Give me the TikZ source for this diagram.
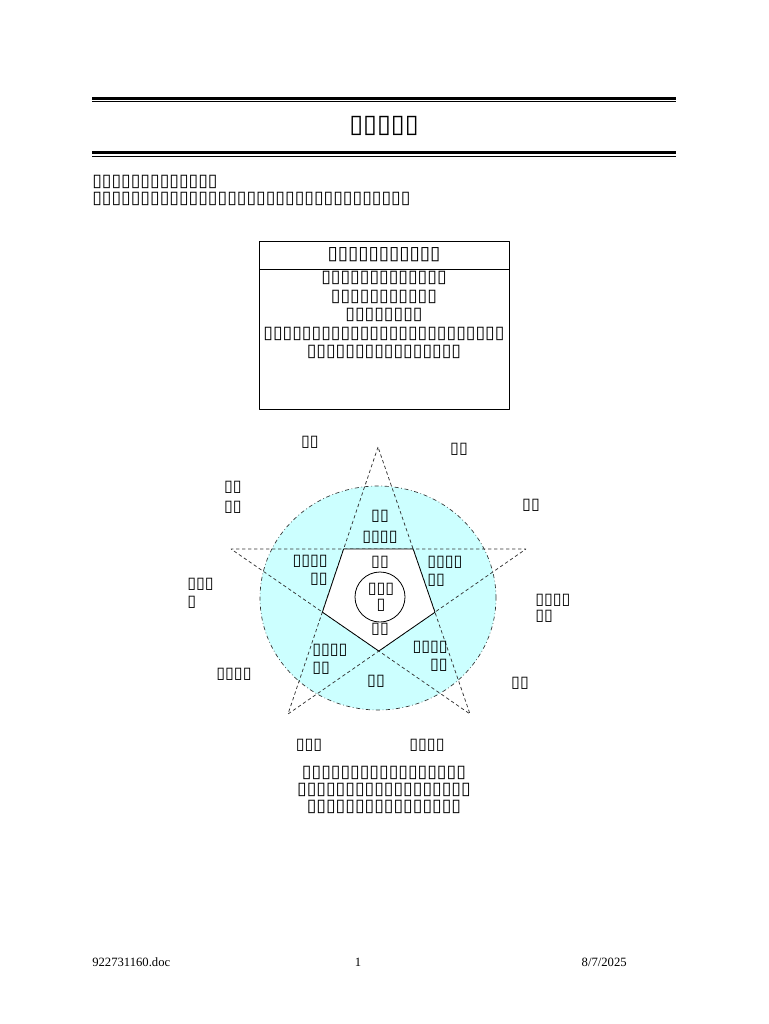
\documentclass[tikz,border=0pt]{standalone}
\usepackage{fontspec}
\setmainfont{Liberation Serif}
\newfontfamily\tofu{DejaVu Sans}
\definecolor{discfill}{HTML}{CCFFFF}
\definecolor{stargray}{HTML}{333333}
\tikzset{
  body/.style={inner sep=0pt,font=\tofu\fontsize{13.15}{13.9}\selectfont,align=center},
  lbl/.style={inner sep=0pt,font=\tofu\fontsize{12}{13.5}\selectfont,align=center},
}
\begin{document}
\begin{tikzpicture}[x=0.75pt,y=-0.75pt,line join=bevel]
\useasboundingbox[fill=white] (0,0) rectangle (768,1024);

% rules
 \draw [line width=2.25pt] (92,98) -- (676,98);
 \draw [line width=0.75pt] (92,101.5) -- (676,101.5);
 \draw [line width=2.25pt] (92,152.5) -- (676,152.5);
 \draw [line width=0.75pt] (92,156) -- (676,156);

 \node (title) at (384,126) [body,font=\tofu\fontsize{18.9}{20}\selectfont] {▯▯▯▯▯};
 \node (intro_0) at (92,182) [body,anchor=west] {▯▯▯▯▯▯▯▯▯▯▯▯▯};
 \node (intro_1) at (92,199) [body,anchor=west] {▯▯▯▯▯▯▯▯▯▯▯▯▯▯▯▯▯▯▯▯▯▯▯▯▯▯▯▯▯▯▯▯▯};

% text box
 \draw [black,line width=0.6pt] (259,241) rectangle (509,409);
 \draw [black,line width=0.6pt] (259,269) -- (509,269);
 \node (box_head) at (384,255) [body,font=\tofu\fontsize{14}{15}\selectfont] {▯▯▯▯▯▯▯▯▯▯▯};
 \node (box_body) at (384,315) [body] {▯▯▯▯▯▯▯▯▯▯▯▯▯\\▯▯▯▯▯▯▯▯▯▯▯\\▯▯▯▯▯▯▯▯\\▯▯▯▯▯▯▯▯▯▯▯▯▯▯▯▯▯▯▯▯▯▯▯▯▯\\▯▯▯▯▯▯▯▯▯▯▯▯▯▯▯▯};

% pentagram
 \coordinate (st_t) at (378,447);
 \coordinate (st_l) at (231,549);
 \coordinate (st_r) at (526,549);
 \coordinate (st_bl) at (288,714);
 \coordinate (st_br) at (470,714);
 \fill [discfill] (378,598) ellipse [x radius=88.5pt,y radius=84pt];
 \draw [stargray,line width=0.5pt,dash dot] (378,598) ellipse [x radius=88.5pt,y radius=84pt];
 \draw [stargray,line width=0.55pt,dash pattern=on 2.5pt off 2pt] (st_t) -- (st_bl) -- (st_r) -- (st_l) -- (st_br) -- cycle;
 \coordinate (pg_1) at (intersection of st_t--st_bl and st_l--st_r);
 \coordinate (pg_2) at (intersection of st_t--st_br and st_l--st_r);
 \coordinate (pg_3) at (intersection of st_t--st_br and st_r--st_bl);
 \coordinate (pg_4) at (intersection of st_l--st_br and st_r--st_bl);
 \coordinate (pg_5) at (intersection of st_t--st_bl and st_l--st_br);
 \draw [black,line width=0.6pt,fill=white] (pg_1) -- (pg_2) -- (pg_3) -- (pg_4) -- (pg_5) -- cycle;
 \draw [black,line width=0.6pt,fill=white] (380,597) circle [radius=18.75pt];

% outer labels
 \node (out_0) at (310,442) [lbl] {▯▯};
 \node (out_1) at (459,449) [lbl] {▯▯};
 \node (out_2) at (233,497) [lbl,align=left,font=\tofu\fontsize{12}{15}\selectfont] {▯▯\\▯▯};
 \node (out_3) at (531,505) [lbl] {▯▯};
 \node (out_4) at (187,593) [lbl,anchor=west,align=left] {▯▯▯\\▯};
 \node (out_5) at (535,608) [lbl,anchor=west,align=left,font=\tofu\fontsize{12}{12}\selectfont] {▯▯▯▯\\▯▯};
 \node (out_6) at (234,674) [lbl] {▯▯▯▯};
 \node (out_7) at (520,683) [lbl] {▯▯};
 \node (out_8) at (309,745) [lbl] {▯▯▯};
 \node (out_9) at (427,745) [lbl] {▯▯▯▯};

% inner labels
 \node (in_top) at (380,527) [lbl,font=\tofu\fontsize{12}{15.5}\selectfont] {▯▯\\▯▯▯▯};
 \node (in_left) at (328,570) [lbl,anchor=east,align=right] {▯▯▯▯\\▯▯};
 \node (in_right) at (427,571) [lbl,anchor=west,align=left] {▯▯▯▯\\▯▯};
 \node (pg_top) at (380,562) [lbl] {▯▯};
 \node (core) at (381,597) [lbl,font=\tofu\fontsize{12}{12}\selectfont] {▯▯▯\\▯};
 \node (pg_bot) at (380,629) [lbl] {▯▯};
 \node (in_bl) at (312,659) [lbl,anchor=west,align=left] {▯▯▯▯\\▯▯};
 \node (in_br) at (448,656) [lbl,anchor=east,align=right] {▯▯▯▯\\▯▯};
 \node (in_bot) at (376,681) [lbl] {▯▯};

% caption
 \node (caption) at (384,790) [body,font=\tofu\fontsize{13.15}{12.75}\selectfont] {▯▯▯▯▯▯▯▯▯▯▯▯▯▯▯▯▯\\▯▯▯▯▯▯▯▯▯▯▯▯▯▯▯▯▯▯\\▯▯▯▯▯▯▯▯▯▯▯▯▯▯▯▯};

% footer
 \node (foot_l) at (92,962) [anchor=west,inner sep=0pt,font=\fontsize{9.5}{11}\selectfont] {922731160.doc};
 \node (foot_c) at (358,962) [inner sep=0pt,font=\fontsize{9.5}{11}\selectfont] {1};
 \node (foot_r) at (627,962) [anchor=east,inner sep=0pt,font=\fontsize{9.5}{11}\selectfont] {8/7/2025};
\end{tikzpicture}
\end{document}
